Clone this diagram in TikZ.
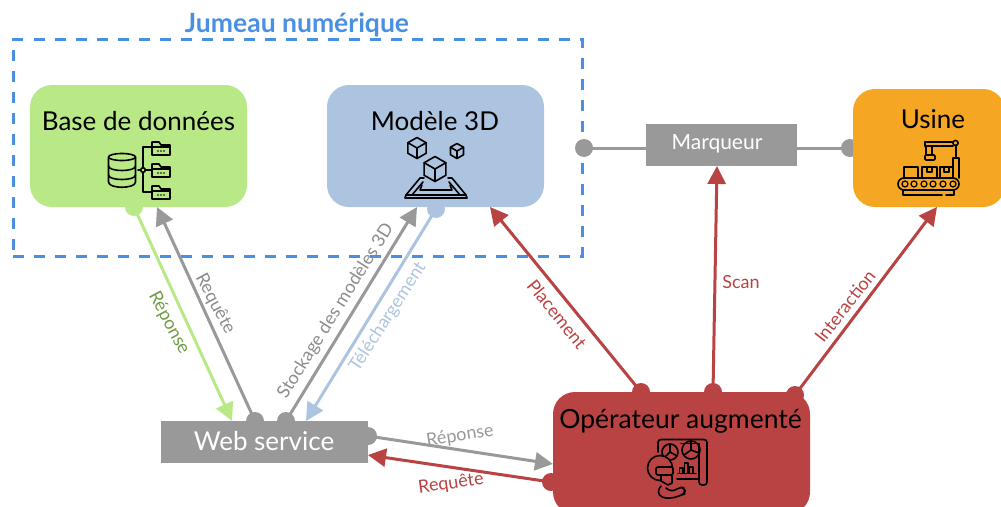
\documentclass[tikz,border=0pt]{standalone}
\usepackage{fontspec}
\setmainfont{Lato}
\usetikzlibrary{arrows.meta}
\definecolor{cblue}{HTML}{4A90E2}
\definecolor{cgreen}{HTML}{B8E986}
\definecolor{cdgreen}{HTML}{6F9B45}
\definecolor{clblue}{HTML}{ADC4E0}
\definecolor{corange}{HTML}{F5A623}
\definecolor{cred}{HTML}{B94343}
\definecolor{cgray}{HTML}{999999}
\definecolor{cdgray}{HTML}{8C8C8C}
\tikzset{
  panel/.style={rounded corners=22pt,inner sep=0pt,outer sep=0pt,anchor=north west},
  graybox/.style={fill=cgray,inner sep=0pt,outer sep=0pt,anchor=north west},
  title/.style={font=\fontsize{26}{26}\selectfont,text=black,inner sep=0pt},
  whitetitle/.style={text=white,inner sep=0pt},
  lab/.style={font=\fontsize{18}{18}\selectfont,inner sep=0pt},
  dot/.style={circle,inner sep=0pt,outer sep=0pt,minimum size=18pt},
  conn/.style={line width=3pt,-{Triangle[length=18pt,width=18pt]}},
  plainconn/.style={line width=3pt},
  icon/.style={line width=1.6pt,draw=black,line join=round,line cap=round},
  thinicon/.style={line width=1.2pt,draw=black,line join=round,line cap=round},
}
\newcommand{\isocube}[3]{% x y r
  \draw[icon] (#1,#2-#3) -- (#1+0.87*#3,#2-0.5*#3) -- (#1+0.87*#3,#2+0.5*#3) -- (#1,#2+#3) -- (#1-0.87*#3,#2+0.5*#3) -- (#1-0.87*#3,#2-0.5*#3) -- cycle;
  \draw[icon] (#1-0.87*#3,#2-0.5*#3) -- (#1,#2) -- (#1+0.87*#3,#2-0.5*#3) (#1,#2) -- (#1,#2+#3);
}
\newcommand{\folder}[2]{% x y top-left
  \draw[icon] (#1,#2+13) -- (#1,#2) -- (#1+7,#2) -- (#1+9,#2+3) -- (#1+18,#2+3) -- (#1+18,#2+13) -- cycle;
  \draw[icon] (#1,#2+5) -- (#1+18,#2+5);
  \fill (#1+6,#2+9) circle (0.9pt) (#1+9,#2+9) circle (0.9pt) (#1+12,#2+9) circle (0.9pt);
}
\begin{document}
\begin{tikzpicture}[x=1pt,y=-1pt]
\useasboundingbox (0,0) rectangle (1001,506);
\clip (0,0) rectangle (1001,506);

% dashed frame
\node[draw=cblue,line width=3pt,dash pattern=on 11pt off 10pt,minimum width=569pt,minimum height=216.5pt,inner sep=0pt,outer sep=0pt,anchor=north west] (frame) at (13,39.5) {};
\node[text=cblue,font=\bfseries\fontsize{26.5}{26.5}\selectfont,inner sep=0pt] (frametitle) at (297,25) {Jumeau numérique};

% anchors for arrow tips
\coordinate (tipBaseReq) at (157,207);
\coordinate (tipWebRep) at (232,421);
\coordinate (tipModStock) at (417,207);
\coordinate (tipWebTel) at (306,421);
\coordinate (tipModPlace) at (490,207);
\coordinate (tipMarqScan) at (717,166);
\coordinate (tipUsineInt) at (937,207);
\coordinate (tipOpRep) at (553,464);
\coordinate (tipWebReq) at (368,455);

% dots
\node[dot,fill=cgreen] (dBase) at (134,207) {};
\node[dot,fill=clblue] (dMod) at (436,209) {};
\node[dot,fill=cgray] (dWeb1) at (255,421) {};
\node[dot,fill=cgray] (dWeb2) at (286,421) {};
\node[dot,fill=cgray] (dWeb3) at (368,436) {};
\node[dot,fill=cgray] (dFrame) at (584,148) {};
\node[dot,fill=cgray] (dUsine) at (850,148) {};
\node[dot,fill=cred] (dOp1) at (641,392) {};
\node[dot,fill=cred] (dOp2) at (713,392) {};
\node[dot,fill=cred] (dOp3) at (795,395) {};
\node[dot,fill=cred] (dOp4) at (551,482) {};

% panels
\node[panel,fill=cgreen,minimum width=217pt,minimum height=122pt] (base) at (30,85) {};
\node[panel,fill=clblue,minimum width=217pt,minimum height=122pt] (modele) at (327,85) {};
\node[panel,fill=corange,minimum width=152pt,minimum height=118pt] (usine) at (853,89) {};
\node[panel,fill=cred,minimum width=257pt,minimum height=122pt] (oper) at (553,392) {};
\node[graybox,minimum width=151pt,minimum height=42pt] (marq) at (646,124) {};
\node[graybox,minimum width=207pt,minimum height=42pt] (web) at (161,421) {};

% titles
\node[title] (tbase) at (138.5,121) {Base de données};
\node[title] (tmod) at (435,121) {Modèle 3D};
\node[title] (tusine) at (933,119) {Usine};
\node[title,font=\fontsize{26.5}{26.5}\selectfont] (toper) at (680.5,421) {Opérateur augmenté};
\node[whitetitle,font=\fontsize{21}{21}\selectfont] (tmarq) at (717,144) {Marqueur};
\node[whitetitle,font=\fontsize{26}{26}\selectfont] (tweb) at (264,441) {Web service};

% connectors
\draw[conn,cgreen] (dBase.center) -- (tipWebRep);
\draw[conn,cgray] (dWeb1.center) -- (tipBaseReq);
\draw[conn,cgray] (dWeb2.center) -- (tipModStock);
\draw[conn,clblue] (dMod.center) -- (tipWebTel);
\draw[conn,cred] (dOp1.center) -- (tipModPlace);
\draw[conn,cred] (dOp2.center) -- (tipMarqScan);
\draw[conn,cred] (dOp3.center) -- (tipUsineInt);
\draw[conn,cgray] (dWeb3.center) -- (tipOpRep);
\draw[conn,cred] (dOp4.center) -- (tipWebReq);
\draw[plainconn,cgray] (dFrame.center) -- (dFrame.center -| marq.west);
\draw[plainconn,cgray] (dUsine.center -| marq.east) -- (dUsine.center);

% connector labels
\node[lab,text=cdgreen,rotate=-62] (lRep1) at (169,323) {Réponse};
\node[lab,text=cdgray,rotate=-62] (lReq1) at (215,304) {Requête};
\node[lab,text=cdgray,rotate=58] (lSto) at (336,311) {Stockage des modèles 3D};
\node[lab,text=clblue,rotate=57] (lTel) at (388,317) {Téléchargement};
\node[lab,text=cred,rotate=-51] (lPla) at (557,314) {Placement};
\node[lab,text=cred] (lSca) at (741,282) {Scan};
\node[lab,text=cred,rotate=52] (lInt) at (845,306) {Interaction};
\node[lab,text=cgray,rotate=9] (lRep2) at (460,436) {Réponse};
\node[lab,text=cred,rotate=8] (lReq2) at (451,484) {Requête};

% database icon
\draw[icon] (122,157) ellipse (13.5pt and 3.5pt);
\draw[icon] (108.5,157) -- (108.5,182) .. controls (108.5,189) and (135.5,189) .. (135.5,182) -- (135.5,157);
\draw[icon] (108.5,166) .. controls (108.5,172) and (135.5,172) .. (135.5,166);
\draw[icon] (108.5,175) .. controls (108.5,181) and (135.5,181) .. (135.5,175);
\draw[icon] (138,170) -- (152,170) (152,147) -- (143,147) -- (143,192) -- (152,192);
\draw[icon,fill=cgreen] (143,170) circle (2.3pt);
\folder{152}{142}\folder{152}{164}\folder{152}{186}

% 3D model icon
\isocube{417}{148}{10.5}
\isocube{457}{151}{7.5}
\isocube{435}{169}{12.5}
\draw[icon] (405,198) -- (467,198) -- (466,195) -- (406,195) -- cycle;
\draw[icon] (406,195) -- (420,178) -- (424,178) (466,195) -- (452,178) -- (448,178);
\draw[icon] (412,195) -- (423,182) (460,195) -- (449,182);
\draw[icon] (422,185) -- (420,190) -- (452,190) -- (450,185);

% conveyor icon
\draw[icon,rounded corners=6pt] (898,178) rectangle (959,190);
\foreach \wx in {905,914,924,933,943,953}{\draw[thinicon] (\wx,184) circle (3pt);}
\draw[icon] (903,190) -- (903,195) -- (942,195) (946,195) -- (954,195) -- (954,190);
\draw[icon] (904,178) -- (904,167) -- (918,167) -- (918,178);
\draw[icon] (922,178) -- (922,167) -- (937,167) -- (937,178) (927,167) -- (927,172) -- (932,172) -- (932,167);
\draw[icon] (940,178) -- (940,167) -- (953,167) (944,167) -- (944,172) -- (949,172) -- (949,167);
\draw[icon] (953,178) -- (953,158) -- (959,158) -- (959,178);
\draw[icon] (956,158) -- (956,145);
\draw[icon] (925,146) -- (953,146) (925,142) -- (953,142);
\draw[icon] (925,142) -- (925,146);
\draw[icon] (955.5,143) circle (2.6pt);
\draw[icon] (926,146) -- (926,155) (932,146) -- (932,155);
\draw[icon,rounded corners=1pt] (925,155) rectangle (935,160);

% operator icon
\draw[icon,rounded corners=3pt] (658,452) -- (658,439.5) -- (707,439.5) -- (707,485) -- (699,485) -- (699,444);
\draw[icon] (699,443.5) -- (681,443.5);
\draw[icon] (677,479) -- (698,479);
\draw[icon] (670,452) circle (8pt);
\draw[icon] (670,444) -- (670,452) -- (677,456) (670,452) -- (664,458);
\draw[icon] (691,450) circle (9pt);
\draw[icon] (691,441) -- (691,450) -- (699,453) (691,450) -- (684,455);
\draw[thinicon] (678,473.5) -- (696,473.5);
\draw[thinicon] (679.5,473.5) rectangle (683,468) (684.5,473.5) rectangle (688,463) (689.5,473.5) rectangle (693,467);
\draw[icon,fill=cred] (660,468) circle (12.5pt);
\draw[icon,fill=cred,rounded corners=2pt] (656,467) rectangle (673,475);
\fill[cred] (661,476) -- (673,476) -- (673,484) -- (661,484) -- cycle;
\draw[icon] (661,476) -- (661,481) -- (668,485) -- (672,483) -- (672,476);
\draw[icon,rounded corners=4pt] (661,486) -- (657,492) -- (662,498) -- (674,498) -- (681,495) -- (685,494) -- (685,488) -- (680,487) -- (672,492) -- (666,488);
\end{tikzpicture}
\end{document}
